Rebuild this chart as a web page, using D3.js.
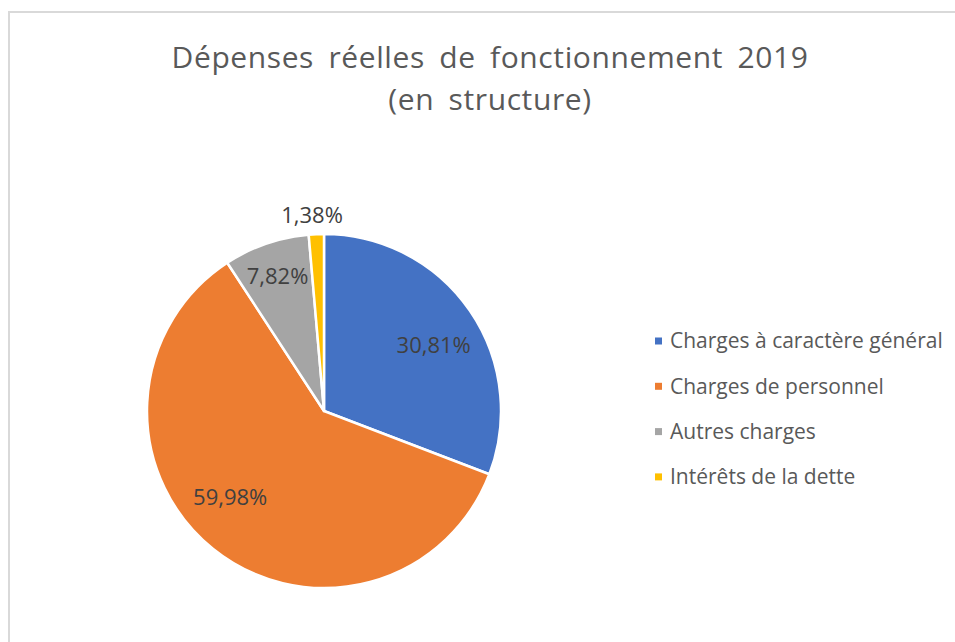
<!DOCTYPE html>
<html>
<head>
<meta charset="utf-8">
<script src="https://cdn.jsdelivr.net/npm/d3@7"></script>
<style>
  body { margin: 0; background: #fff; }
  text { font-family: "Open Sans", sans-serif; }
</style>
</head>
<body>
<div id="chart-area"></div>
<script>
var categories = ["Charges à caractère général", "Charges de personnel", "Autres charges", "Intérêts de la dette"];
var values = [30.81, 59.98, 7.82, 1.38];
var colors = ["#4472C4", "#ED7D31", "#A5A5A5", "#FFC000"];
var titleLines = ["Dépenses réelles de fonctionnement 2019", "(en structure)"];

var W = 955, H = 642;
var cx = 324, cy = 411, radius = 177;
// label placement ("best fit"): distance as share of radius, angle nudge in degrees
var labelDist = [0.723, 0.72, 0.804, 1.109];
var labelShift = [3.5, 8.5, 0, -1];

var svg = d3.select("#chart-area")
  .append("svg")
  .attr("width", W)
  .attr("height", H);

// frame
svg.append("rect")
  .attr("x", 9)
  .attr("y", 12)
  .attr("width", W + 20)
  .attr("height", H + 20)
  .attr("fill", "#fff")
  .attr("stroke", "#d9d9d9")
  .attr("stroke-width", 2);

// title
svg.selectAll(".title")
  .data(titleLines)
  .enter()
  .append("text")
  .attr("class", "title")
  .attr("x", 490)
  .attr("y", (d, i) => 68 + i * 42)
  .attr("text-anchor", "middle")
  .attr("font-size", "30px")
  .attr("letter-spacing", "0.6px")
  .attr("word-spacing", "6px")
  .attr("fill", "#595959")
  .text(d => d);

var pie = d3.pie().sort(null).value(d => d);
var arcs = pie(values);
var arc = d3.arc().innerRadius(0).outerRadius(radius);

var g = svg.append("g")
  .attr("transform", "translate(" + cx + "," + cy + ")");

g.selectAll("path")
  .data(arcs)
  .enter()
  .append("path")
  .attr("d", arc)
  .attr("fill", (d, i) => colors[i])
  .attr("stroke", "#fff")
  .attr("stroke-width", 2.5)
  .attr("stroke-linejoin", "round");

var fmt = v => d3.format(".2f")(v).replace(".", ",") + "%";

g.selectAll(".label")
  .data(arcs)
  .enter()
  .append("text")
  .attr("class", "label")
  .attr("transform", (d, i) => {
    var a = (d.startAngle + d.endAngle) / 2 + labelShift[i] * Math.PI / 180;
    var r = radius * labelDist[i];
    return "translate(" + (Math.sin(a) * r) + "," + (-Math.cos(a) * r) + ")";
  })
  .attr("text-anchor", "middle")
  .attr("dy", "0.35em")
  .attr("font-size", "22px")
  .attr("fill", "#404040")
  .text(d => fmt(d.value));

// legend
var legend = svg.append("g")
  .attr("transform", "translate(655,341)");

var item = legend.selectAll(".item")
  .data(categories)
  .enter()
  .append("g")
  .attr("class", "item")
  .attr("transform", (d, i) => "translate(0," + i * 45.3 + ")");

item.append("rect")
  .attr("x", 0)
  .attr("y", -3.5)
  .attr("width", 7)
  .attr("height", 7)
  .attr("fill", (d, i) => colors[i]);

item.append("text")
  .attr("x", 15)
  .attr("dy", "0.35em")
  .attr("font-size", "21px")
  .attr("fill", "#595959")
  .text(d => d);
</script>
</body>
</html>
